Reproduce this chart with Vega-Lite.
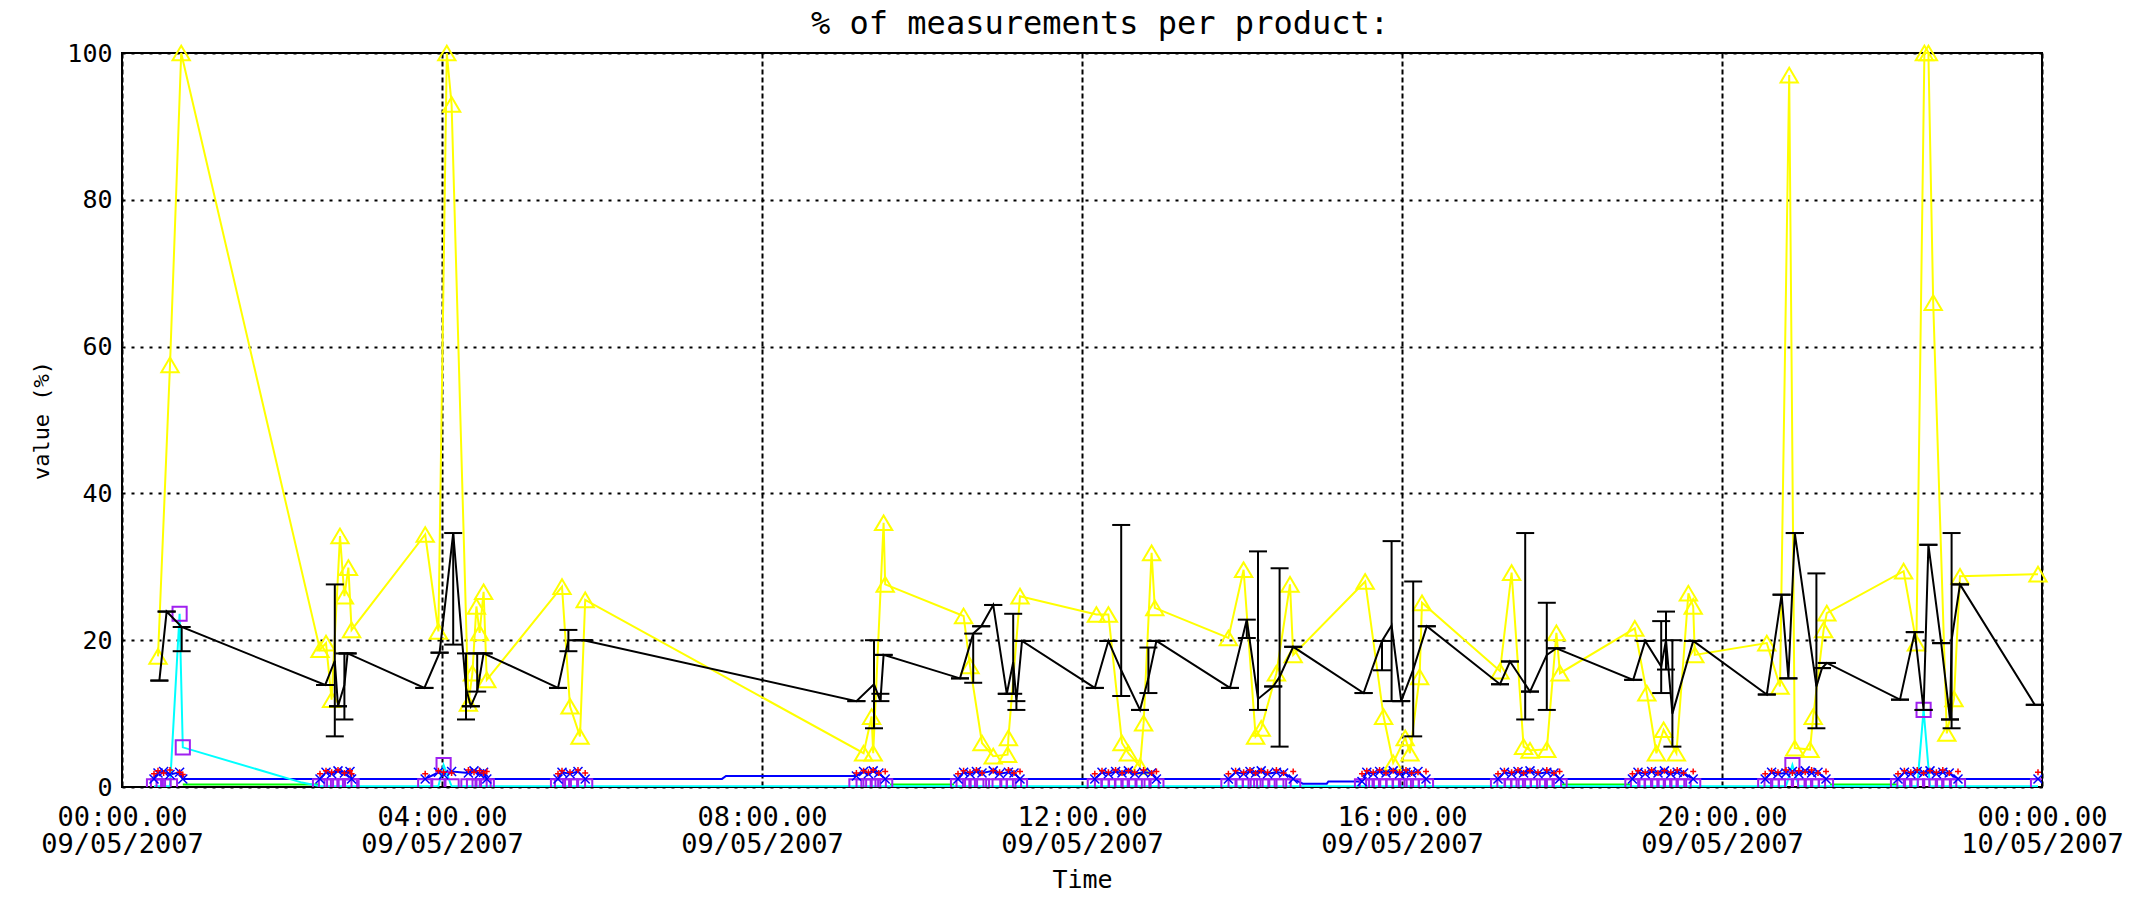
{
  "$schema": "https://vega.github.io/schema/vega-lite/v6.json",
  "width": 1920,
  "height": 734,
  "autosize": {"type": "none"},
  "padding": {"left": 122, "top": 53, "right": 103, "bottom": 112},
  "background": "white",
  "config": {"view": {"stroke": "black", "strokeWidth": 2}, "font": "DejaVu Sans Mono"},
  "title": {"text": "% of measurements per product:", "fontSize": 32, "fontWeight": "normal", "font": "DejaVu Sans Mono", "color": "black", "offset": 0, "anchor": "middle", "dx": 18},
  "datasets": {
    "yellow": [
      {"t":0.45,"v":17.8},{"t":0.60,"v":57.5},{"t":0.74,"v":100},{"t":2.475,"v":18.7},{"t":2.55,"v":19.6},{"t":2.62,"v":11.9},{"t":2.725,"v":34.2},{"t":2.78,"v":26.0},{"t":2.83,"v":29.9},{"t":2.87,"v":21.4},{"t":3.79,"v":34.4},{"t":3.955,"v":21.2},{"t":4.06,"v":100},{"t":4.12,"v":93},{"t":4.33,"v":11.4},{"t":4.38,"v":15.5},{"t":4.43,"v":24.6},{"t":4.47,"v":21.0},{"t":4.52,"v":26.6},{"t":4.56,"v":14.6},{"t":5.50,"v":27.3},{"t":5.60,"v":11.0},{"t":5.725,"v":6.9},{"t":5.79,"v":25.5},
      {"t":9.27,"v":4.6},{"t":9.37,"v":9.6},{"t":9.39,"v":4.6},{"t":9.52,"v":36.0},{"t":9.54,"v":27.6},{"t":10.52,"v":23.3},{"t":10.60,"v":16.5},{"t":10.75,"v":6.0},{"t":10.89,"v":4.2},{"t":11.07,"v":4.4},{"t":11.08,"v":6.7},{"t":11.225,"v":26.0},
      {"t":12.18,"v":23.5},{"t":12.33,"v":23.5},{"t":12.50,"v":6.0},{"t":12.58,"v":4.6},{"t":12.725,"v":2.8},{"t":12.77,"v":8.7},{"t":12.87,"v":31.9},{"t":12.91,"v":24.4},{"t":13.83,"v":20.3},{"t":14.02,"v":29.6},{"t":14.17,"v":6.9},{"t":14.24,"v":8.0},{"t":14.43,"v":15.5},{"t":14.60,"v":27.6},{"t":14.64,"v":18.0},
      {"t":15.54,"v":28.0},{"t":15.77,"v":9.6},{"t":15.89,"v":3.3},{"t":16.04,"v":6.7},{"t":16.10,"v":4.6},{"t":16.22,"v":15.0},{"t":16.25,"v":25.1},{"t":17.225,"v":15.8},{"t":17.37,"v":29.2},{"t":17.52,"v":5.5},{"t":17.60,"v":5.0},{"t":17.81,"v":5.1},{"t":17.93,"v":21.0},{"t":17.975,"v":15.5},
      {"t":18.91,"v":21.6},{"t":19.06,"v":12.8},{"t":19.18,"v":4.6},{"t":19.27,"v":7.8},{"t":19.43,"v":4.6},{"t":19.58,"v":26.4},{"t":19.64,"v":24.6},{"t":19.66,"v":18.0},
      {"t":20.56,"v":19.6},{"t":20.725,"v":13.7},{"t":20.84,"v":97.0},{"t":20.91,"v":5.3},{"t":21.10,"v":5.1},{"t":21.14,"v":9.6},{"t":21.27,"v":21.4},{"t":21.31,"v":23.7},
      {"t":22.27,"v":29.4},{"t":22.43,"v":19.6},{"t":22.53,"v":100},{"t":22.58,"v":100},{"t":22.64,"v":66.0},{"t":22.81,"v":7.3},{"t":22.90,"v":12.0},{"t":22.975,"v":28.7},{"t":23.95,"v":29.0}
    ],
    "black": [
      {"t":0.467,"v":14.5,"lo":14.5,"hi":14.5},{"t":0.558,"v":23.9,"lo":23.9,"hi":23.9},{"t":0.746,"v":21.8,"lo":18.5,"hi":21.8},{"t":2.54,"v":13.9,"lo":13.9,"hi":13.9},{"t":2.66,"v":17.2,"lo":6.9,"hi":27.6},{"t":2.70,"v":11.0,"lo":11.0,"hi":11.0},{"t":2.78,"v":13.9,"lo":9.2,"hi":18.2},{"t":2.82,"v":18.2,"lo":18.2,"hi":18.2},{"t":3.78,"v":13.5,"lo":13.5,"hi":13.5},{"t":3.97,"v":18.3,"lo":18.3,"hi":18.3},{"t":4.14,"v":34.6,"lo":19.4,"hi":34.6},{"t":4.30,"v":13.5,"lo":9.2,"hi":18.2},{"t":4.36,"v":11.0,"lo":11.0,"hi":11.0},{"t":4.44,"v":13.0,"lo":13.0,"hi":18.2},{"t":4.52,"v":18.2,"lo":18.2,"hi":18.2},{"t":5.45,"v":13.5,"lo":13.5,"hi":13.5},{"t":5.58,"v":20.0,"lo":18.5,"hi":21.4},{"t":5.77,"v":20.0,"lo":20.0,"hi":20.0},
      {"t":9.18,"v":11.7,"lo":11.7,"hi":11.7},{"t":9.40,"v":14.0,"lo":8.0,"hi":20.0},{"t":9.48,"v":11.7,"lo":11.7,"hi":12.7},{"t":9.52,"v":18.0,"lo":18.0,"hi":18.0},{"t":10.475,"v":14.8,"lo":14.8,"hi":14.8},{"t":10.64,"v":20.9,"lo":14.2,"hi":20.9},{"t":10.74,"v":21.9,"lo":21.9,"hi":21.9},{"t":10.89,"v":24.8,"lo":24.8,"hi":24.8},{"t":11.06,"v":12.7,"lo":12.7,"hi":12.7},{"t":11.14,"v":17.0,"lo":12.7,"hi":23.6},{"t":11.18,"v":11.7,"lo":10.5,"hi":11.7},{"t":11.25,"v":19.9,"lo":19.9,"hi":19.9},
      {"t":12.16,"v":13.5,"lo":13.5,"hi":13.5},{"t":12.33,"v":19.9,"lo":19.9,"hi":19.9},{"t":12.49,"v":15.9,"lo":12.4,"hi":35.7},{"t":12.725,"v":10.5,"lo":10.5,"hi":10.5},{"t":12.83,"v":14.8,"lo":12.8,"hi":19.0},{"t":12.93,"v":19.9,"lo":19.9,"hi":19.9},{"t":13.85,"v":13.5,"lo":13.5,"hi":13.5},{"t":14.06,"v":22.8,"lo":20.3,"hi":22.8},{"t":14.20,"v":12.0,"lo":10.5,"hi":32.1},{"t":14.39,"v":13.7,"lo":13.7,"hi":13.7},{"t":14.47,"v":15.0,"lo":5.5,"hi":29.8},{"t":14.64,"v":19.1,"lo":19.1,"hi":19.1},
      {"t":15.52,"v":12.8,"lo":12.8,"hi":12.8},{"t":15.75,"v":19.9,"lo":15.9,"hi":19.9},{"t":15.87,"v":22.0,"lo":11.7,"hi":33.5},{"t":15.99,"v":11.7,"lo":11.7,"hi":11.7},{"t":16.14,"v":16.0,"lo":6.9,"hi":28.0},{"t":16.31,"v":21.9,"lo":21.9,"hi":21.9},{"t":17.225,"v":14.0,"lo":14.0,"hi":14.0},{"t":17.35,"v":17.1,"lo":17.1,"hi":17.1},{"t":17.54,"v":14.0,"lo":9.2,"hi":34.6},{"t":17.60,"v":13.0,"lo":13.0,"hi":13.0},{"t":17.81,"v":18.0,"lo":10.5,"hi":25.1},{"t":17.93,"v":18.9,"lo":18.9,"hi":18.9},
      {"t":18.89,"v":14.6,"lo":14.6,"hi":14.6},{"t":19.04,"v":19.9,"lo":19.9,"hi":19.9},{"t":19.24,"v":16.4,"lo":12.8,"hi":22.6},{"t":19.30,"v":20.0,"lo":16.0,"hi":23.9},{"t":19.38,"v":10.0,"lo":5.5,"hi":20.0},{"t":19.64,"v":19.9,"lo":19.9,"hi":19.9},
      {"t":20.56,"v":12.6,"lo":12.6,"hi":12.6},{"t":20.745,"v":26.2,"lo":26.2,"hi":26.2},{"t":20.83,"v":14.8,"lo":14.8,"hi":14.8},{"t":20.91,"v":34.6,"lo":34.6,"hi":34.6},{"t":21.18,"v":13.7,"lo":8.0,"hi":29.1},{"t":21.25,"v":16.2,"lo":16.2,"hi":16.2},{"t":21.31,"v":16.9,"lo":16.9,"hi":16.9},
      {"t":22.225,"v":11.9,"lo":11.9,"hi":11.9},{"t":22.41,"v":21.1,"lo":21.1,"hi":21.1},{"t":22.52,"v":10.5,"lo":10.5,"hi":10.5},{"t":22.58,"v":33.0,"lo":33.0,"hi":33.0},{"t":22.74,"v":19.6,"lo":19.6,"hi":19.6},{"t":22.85,"v":9.2,"lo":9.2,"hi":9.2},{"t":22.87,"v":20.0,"lo":8.0,"hi":34.6},{"t":22.975,"v":27.6,"lo":27.6,"hi":27.6},{"t":23.91,"v":11.2,"lo":11.2,"hi":11.2}
    ],
    "low": [
      {"t":0.40,"b":1.1,"c":0.1,"r":1.8},{"t":0.45,"b":1.9,"c":0.1,"r":2.2},{"t":0.52,"b":2.1,"c":0.1,"r":1.9},{"t":0.60,"b":1.7,"c":0.1,"r":2.3},{"t":0.72,"b":2.0,"c":23.6,"r":2.0},{"t":0.76,"b":1.1,"c":5.4,"r":1.7},{"t":2.25,"b":1.1,"c":0.6,"r":null},
      {"t":2.475,"b":1.1,"c":0.1,"r":1.8},{"t":2.55,"b":2.0,"c":0.1,"r":2.2},{"t":2.62,"b":1.8,"c":0.1,"r":2.0},{"t":2.70,"b":2.2,"c":0.1,"r":2.3},{"t":2.78,"b":1.9,"c":0.1,"r":1.9},{"t":2.85,"b":2.1,"c":0.1,"r":2.2},{"t":2.87,"b":1.1,"c":0.1,"r":1.8},
      {"t":3.79,"b":1.1,"c":0.1,"r":1.8},{"t":3.955,"b":2.0,"c":0.1,"r":2.2},{"t":4.02,"b":1.7,"c":3.0,"r":2.0},{"t":4.12,"b":2.1,"c":0.1,"r":1.9},{"t":4.33,"b":1.9,"c":0.1,"r":2.3},{"t":4.40,"b":2.2,"c":0.1,"r":2.0},{"t":4.47,"b":1.8,"c":0.1,"r":2.2},{"t":4.52,"b":2.0,"c":0.1,"r":1.9},{"t":4.56,"b":1.1,"c":0.1,"r":2.1},
      {"t":5.45,"b":1.1,"c":0.1,"r":1.8},{"t":5.50,"b":2.0,"c":0.1,"r":2.2},{"t":5.60,"b":1.8,"c":0.1,"r":2.0},{"t":5.70,"b":2.1,"c":0.1,"r":2.3},{"t":5.79,"b":1.1,"c":0.1,"r":1.9},{"t":7.50,"b":1.1,"c":0.1,"r":null},{"t":7.55,"b":1.5,"c":0.1,"r":null},
      {"t":9.18,"b":1.5,"c":0.1,"r":1.9},{"t":9.27,"b":2.1,"c":0.1,"r":2.2},{"t":9.33,"b":1.8,"c":0.1,"r":2.0},{"t":9.39,"b":2.2,"c":0.1,"r":2.3},{"t":9.46,"b":1.9,"c":0.1,"r":1.9},{"t":9.54,"b":1.1,"c":0.1,"r":2.1},
      {"t":10.45,"b":1.1,"c":0.1,"r":1.8},{"t":10.52,"b":2.0,"c":0.1,"r":2.2},{"t":10.60,"b":1.8,"c":0.1,"r":2.0},{"t":10.68,"b":2.1,"c":0.1,"r":2.3},{"t":10.75,"b":1.9,"c":0.1,"r":1.9},{"t":10.89,"b":2.2,"c":0.1,"r":2.2},{"t":10.97,"b":1.8,"c":0.1,"r":2.0},{"t":11.08,"b":2.0,"c":0.1,"r":2.3},{"t":11.15,"b":1.9,"c":0.1,"r":1.9},{"t":11.225,"b":1.1,"c":0.1,"r":2.1},
      {"t":12.16,"b":1.1,"c":0.1,"r":1.8},{"t":12.25,"b":2.0,"c":0.1,"r":2.2},{"t":12.33,"b":1.8,"c":0.1,"r":2.0},{"t":12.42,"b":2.1,"c":0.1,"r":2.3},{"t":12.50,"b":1.9,"c":0.1,"r":1.9},{"t":12.58,"b":2.2,"c":0.1,"r":2.2},{"t":12.66,"b":1.8,"c":0.1,"r":2.0},{"t":12.77,"b":2.0,"c":0.1,"r":2.3},{"t":12.87,"b":1.9,"c":0.1,"r":1.9},{"t":12.93,"b":1.1,"c":0.1,"r":2.1},
      {"t":13.83,"b":1.1,"c":0.1,"r":1.8},{"t":13.92,"b":2.0,"c":0.1,"r":2.2},{"t":14.02,"b":1.8,"c":0.1,"r":2.0},{"t":14.10,"b":2.1,"c":0.1,"r":2.3},{"t":14.17,"b":1.9,"c":0.1,"r":1.9},{"t":14.24,"b":2.2,"c":0.1,"r":2.2},{"t":14.32,"b":1.8,"c":0.1,"r":2.0},{"t":14.43,"b":2.0,"c":0.1,"r":2.3},{"t":14.52,"b":1.9,"c":0.1,"r":1.9},{"t":14.64,"b":1.1,"c":0.1,"r":2.1},
      {"t":14.76,"b":0.45,"c":0.1,"r":null},{"t":15.06,"b":0.45,"c":0.1,"r":null},{"t":15.08,"b":0.75,"c":0.1,"r":null},
      {"t":15.50,"b":0.75,"c":0.1,"r":1.8},{"t":15.56,"b":2.0,"c":0.1,"r":2.2},{"t":15.64,"b":1.8,"c":0.1,"r":2.0},{"t":15.72,"b":2.1,"c":0.1,"r":2.3},{"t":15.80,"b":1.9,"c":0.1,"r":1.9},{"t":15.89,"b":2.2,"c":0.1,"r":2.2},{"t":15.97,"b":1.8,"c":0.1,"r":2.0},{"t":16.05,"b":2.0,"c":0.1,"r":2.3},{"t":16.12,"b":1.9,"c":0.1,"r":1.9},{"t":16.20,"b":2.1,"c":0.1,"r":2.0},{"t":16.30,"b":1.1,"c":0.1,"r":2.1},
      {"t":17.20,"b":1.1,"c":0.1,"r":1.8},{"t":17.28,"b":2.0,"c":0.1,"r":2.2},{"t":17.37,"b":1.8,"c":0.1,"r":2.0},{"t":17.45,"b":2.1,"c":0.1,"r":2.3},{"t":17.52,"b":1.9,"c":0.1,"r":1.9},{"t":17.60,"b":2.2,"c":0.1,"r":2.2},{"t":17.70,"b":1.8,"c":0.1,"r":2.0},{"t":17.81,"b":2.0,"c":0.1,"r":2.3},{"t":17.90,"b":1.9,"c":0.1,"r":1.9},{"t":17.97,"b":1.1,"c":0.1,"r":2.1},
      {"t":18.88,"b":1.1,"c":0.1,"r":1.8},{"t":18.95,"b":2.0,"c":0.1,"r":2.2},{"t":19.04,"b":1.8,"c":0.1,"r":2.0},{"t":19.12,"b":2.1,"c":0.1,"r":2.3},{"t":19.20,"b":1.9,"c":0.1,"r":1.9},{"t":19.28,"b":2.2,"c":0.1,"r":2.2},{"t":19.36,"b":1.8,"c":0.1,"r":2.0},{"t":19.44,"b":2.0,"c":0.1,"r":2.3},{"t":19.52,"b":1.9,"c":0.1,"r":1.9},{"t":19.64,"b":1.1,"c":0.1,"r":2.1},
      {"t":20.54,"b":1.1,"c":0.1,"r":1.8},{"t":20.62,"b":2.0,"c":0.1,"r":2.2},{"t":20.70,"b":1.8,"c":0.1,"r":2.0},{"t":20.80,"b":1.9,"c":0.1,"r":2.3},{"t":20.88,"b":2.1,"c":3.0,"r":1.9},{"t":20.96,"b":1.8,"c":0.1,"r":2.2},{"t":21.04,"b":2.2,"c":0.1,"r":2.0},{"t":21.12,"b":1.9,"c":0.1,"r":2.3},{"t":21.20,"b":2.0,"c":0.1,"r":1.9},{"t":21.30,"b":1.1,"c":0.1,"r":2.1},
      {"t":22.20,"b":1.1,"c":0.1,"r":1.8},{"t":22.28,"b":2.0,"c":0.1,"r":2.2},{"t":22.36,"b":1.8,"c":0.1,"r":2.0},{"t":22.44,"b":2.1,"c":0.1,"r":2.3},{"t":22.52,"b":1.9,"c":10.5,"r":1.9},{"t":22.60,"b":2.2,"c":0.1,"r":2.2},{"t":22.68,"b":1.8,"c":0.1,"r":2.0},{"t":22.76,"b":2.0,"c":0.1,"r":2.3},{"t":22.84,"b":1.9,"c":0.1,"r":1.9},{"t":22.95,"b":1.1,"c":0.1,"r":2.1},
      {"t":23.95,"b":1.1,"c":0.1,"r":2.0}
    ],
    "green": [
      {"t":0.76,"v":0.35,"s":1},{"t":2.45,"v":0.35,"s":1},
      {"t":9.6,"v":0.35,"s":2},{"t":10.4,"v":0.35,"s":2},
      {"t":18.0,"v":0.35,"s":3},{"t":18.85,"v":0.35,"s":3},
      {"t":21.35,"v":0.35,"s":4},{"t":22.2,"v":0.35,"s":4}
    ]
  },
  "encoding": {
    "x": {
      "field": "t", "type": "quantitative",
      "scale": {"domain": [0, 24], "nice": false, "zero": false},
      "axis": {
        "values": [0, 4, 8, 12, 16, 20, 24],
        "labelExpr": "[(datum.value % 24 < 10 ? '0' : '') + (datum.value % 24) + ':00.00', datum.value >= 24 ? '10/05/2007' : '09/05/2007']",
        "title": "Time",
        "grid": true, "gridColor": "black", "gridDash": [5, 3], "gridWidth": 2, "gridOpacity": 1,
        "ticks": false, "domain": false,
        "labelFont": "DejaVu Sans Mono", "labelFontSize": 27, "labelLineHeight": 27, "labelPadding": 17,
        "labelColor": "black", "labelFlush": false, "labelOverlap": false,
        "titleFont": "DejaVu Sans Mono", "titleFontSize": 25, "titleFontWeight": "normal", "titleColor": "black",
        "titleX": 960, "titleY": 92, "titleBaseline": "middle", "titleAlign": "center"
      }
    }
  },
  "layer": [
    {
      "data": {"name": "yellow"},
      "mark": {"type": "line", "color": "#FFFF00", "strokeWidth": 2},
      "encoding": {
        "y": {
          "field": "v", "type": "quantitative", "title": "value (%)",
          "scale": {"domain": [0, 100], "nice": false},
          "axis": {
            "values": [0, 20, 40, 60, 80, 100],
            "grid": true, "gridColor": "black", "gridDash": [3, 6], "gridWidth": 2, "gridOpacity": 1,
            "ticks": false, "domain": false,
            "labelFont": "DejaVu Sans Mono", "labelFontSize": 25, "labelPadding": 10,
            "labelColor": "black", "labelFlush": false, "labelOverlap": false, "labelBaseline": "middle",
            "titleFont": "DejaVu Sans Mono", "titleFontSize": 22, "titleFontWeight": "normal", "titleColor": "black",
            "titleX": -81, "titleY": 367, "titleBaseline": "middle", "titleAlign": "center"
          }
        }
      }
    },
    {
      "data": {"name": "yellow"},
      "mark": {"type": "point", "shape": "M0,-0.85L-1,0.85L1,0.85Z", "size": 300, "filled": false, "stroke": "#FFFF00", "strokeWidth": 2, "opacity": 1},
      "encoding": {"y": {"field": "v", "type": "quantitative", "title": "value (%)"}}
    },
    {
      "data": {"name": "green"},
      "mark": {"type": "line", "color": "#00FF00", "strokeWidth": 2, "clip": true},
      "encoding": {"y": {"field": "v", "type": "quantitative", "title": "value (%)"}, "detail": {"field": "s"}}
    },
    {
      "data": {"name": "low"},
      "mark": {"type": "line", "color": "#0000FF", "strokeWidth": 2, "clip": true},
      "encoding": {"y": {"field": "b", "type": "quantitative", "title": "value (%)"}}
    },
    {
      "data": {"name": "low"},
      "mark": {"type": "line", "color": "#00FFFF", "strokeWidth": 2, "clip": true},
      "encoding": {"y": {"field": "c", "type": "quantitative", "title": "value (%)"}}
    },
    {
      "data": {"name": "low"},
      "transform": [{"filter": "datum.r != null"}],
      "mark": {"type": "point", "shape": "square", "size": 200, "filled": false, "stroke": "#A020F0", "strokeWidth": 2, "opacity": 1, "clip": true},
      "encoding": {"y": {"field": "c", "type": "quantitative", "title": "value (%)"}}
    },
    {
      "data": {"name": "low"},
      "transform": [{"filter": "datum.r != null"}],
      "mark": {"type": "point", "shape": "M-1,-1L1,1M-1,1L1,-1", "size": 81, "filled": false, "stroke": "#0000FF", "strokeWidth": 1.5, "opacity": 1, "clip": true},
      "encoding": {"y": {"field": "b", "type": "quantitative", "title": "value (%)"}}
    },
    {
      "data": {"name": "low"},
      "transform": [{"filter": "datum.r != null"}],
      "mark": {"type": "point", "shape": "M0,-1L0,1M-1,0L1,0", "size": 36, "filled": false, "stroke": "#FF0000", "strokeWidth": 1.5, "opacity": 1, "clip": true},
      "encoding": {"y": {"field": "r", "type": "quantitative", "title": "value (%)"}}
    },
    {
      "data": {"name": "black"},
      "mark": {"type": "line", "color": "black", "strokeWidth": 2},
      "encoding": {"y": {"field": "v", "type": "quantitative", "title": "value (%)"}}
    },
    {
      "data": {"name": "black"},
      "mark": {"type": "rule", "color": "black", "strokeWidth": 2},
      "encoding": {"y": {"field": "lo", "type": "quantitative", "title": "value (%)"}, "y2": {"field": "hi"}}
    },
    {
      "data": {"name": "black"},
      "mark": {"type": "tick", "orient": "horizontal", "color": "black", "size": 18, "thickness": 2, "opacity": 1},
      "encoding": {"y": {"field": "lo", "type": "quantitative", "title": "value (%)"}}
    },
    {
      "data": {"name": "black"},
      "mark": {"type": "tick", "orient": "horizontal", "color": "black", "size": 18, "thickness": 2, "opacity": 1},
      "encoding": {"y": {"field": "hi", "type": "quantitative", "title": "value (%)"}}
    }
  ]
}
